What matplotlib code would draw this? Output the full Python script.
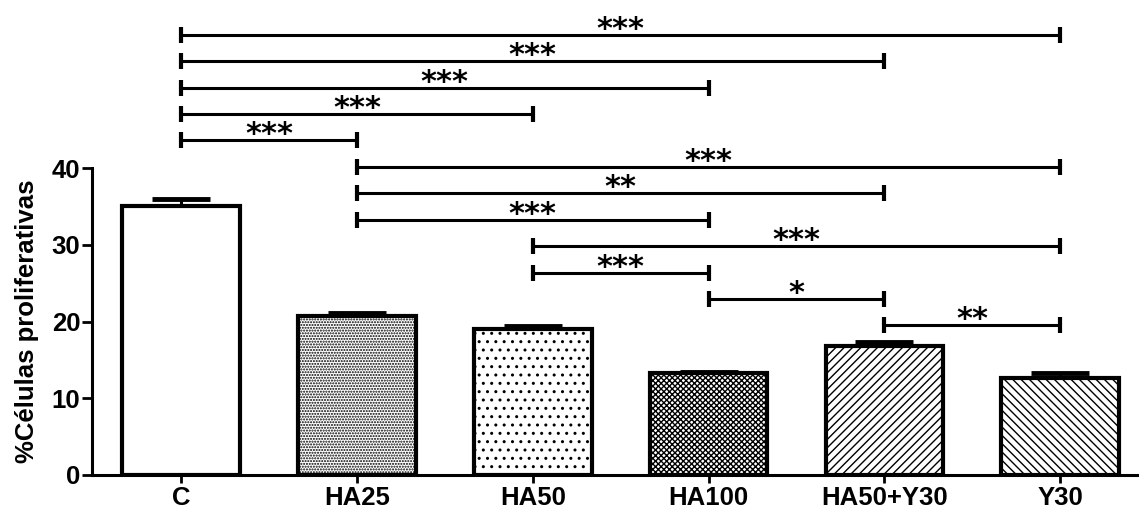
import numpy as np
import matplotlib
matplotlib.use('Agg')
import matplotlib.pyplot as plt

plt.rcParams['font.family'] = ['Liberation Sans', 'DejaVu Sans']
plt.rcParams['font.weight'] = 'bold'
plt.rcParams['hatch.linewidth'] = 1.0

# Dados
grupos = ['C', 'HA25', 'HA50', 'HA100', 'HA50+Y30', 'Y30']
medias = [35.0, 20.75, 19.0, 13.25, 16.8, 12.6]
erros = [1.0, 0.4, 0.35, 0.2, 0.5, 0.7]
texturas = ['', '......', '..', 'xxxxxx', '////', '\\\\\\\\']

# Comparações (grupo i, grupo j, altura da barra, texto)
comp_i = [0, 0, 0, 0, 0, 1, 1, 1, 2, 2, 3, 4]
comp_j = [5, 4, 3, 2, 1, 5, 4, 3, 5, 3, 4, 5]
comp_y = [57.3, 53.9, 50.4, 47.0, 43.6, 40.1, 36.7, 33.2, 29.8, 26.3, 22.9, 19.5]
comp_txt = ['***', '***', '***', '***', '***', '***', '**', '***', '***', '***', '*', '**']

fig = plt.figure(figsize=(11.39, 5.09), dpi=100)
ax = fig.add_axes([0.0808, 0.0668, 0.918, 0.6031])

x = np.arange(len(grupos))
ax.bar(x, medias, width=0.67, color='white', edgecolor='black',
       linewidth=3.0, hatch=texturas, zorder=2)
ax.errorbar(x, medias, yerr=[np.zeros(len(erros)), erros], fmt='none',
            ecolor='black', elinewidth=2.2, capsize=21, capthick=3.5, zorder=1)

# barras de significância
for i, j, y, t in zip(comp_i, comp_j, comp_y, comp_txt):
    ax.plot([i, j], [y, y], color='black', lw=2.2, clip_on=False, solid_capstyle='butt')
    ax.plot([i, i], [y - 1.05, y + 1.05], color='black', lw=3, clip_on=False, solid_capstyle='butt')
    ax.plot([j, j], [y - 1.05, y + 1.05], color='black', lw=3, clip_on=False, solid_capstyle='butt')
    ax.annotate(t, xy=((i + j) / 2, y), xytext=(0, -2), textcoords='offset points',
                ha='center', va='baseline', fontsize=22, fontweight='bold',
                family='DejaVu Sans', annotation_clip=False)

ax.set_xlim(-0.506, 5.44)
ax.set_ylim(0, 40)
ax.set_yticks([0, 10, 20, 30, 40])
ax.set_xticks(x)
ax.set_xticklabels(grupos, fontsize=18.5, fontweight='bold')
ax.tick_params(axis='y', labelsize=18.5, width=2, length=7, pad=1.5)
ax.tick_params(axis='x', width=2, length=6, pad=2)
ax.set_ylabel('%Células proliferativas', fontsize=18.5, fontweight='bold', labelpad=9)

for s in ['top', 'right']:
    ax.spines[s].set_visible(False)
for s in ['left', 'bottom']:
    ax.spines[s].set_linewidth(2.2)

fig.savefig('out.png', dpi=100)
